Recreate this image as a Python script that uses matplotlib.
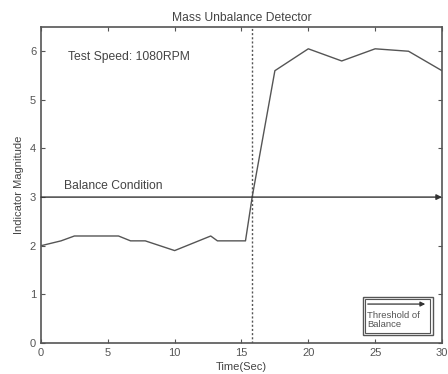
import matplotlib
matplotlib.use("Agg")
import matplotlib.pyplot as plt
from matplotlib.patches import Rectangle

plt.rcParams['font.family'] = ['Liberation Sans', 'DejaVu Sans']

time_sec = [0, 1.5, 2.5, 5.8, 6.7, 7.8, 10.0, 12.7, 13.2, 15.3, 15.8, 17.5, 20.0, 22.5, 25.0, 27.5, 30.0]
magnitude = [2.0, 2.1, 2.2, 2.2, 2.1, 2.1, 1.9, 2.2, 2.1, 2.1, 3.0, 5.6, 6.05, 5.8, 6.05, 6.0, 5.6]
threshold = 3.0
event_time = 15.8
x_ticks = [0, 5, 10, 15, 20, 25, 30]
y_ticks = [0, 1, 2, 3, 4, 5, 6]

fig = plt.figure(figsize=(4.48, 3.74), dpi=100)
ax = fig.add_axes([0.0915, 0.083, 0.895, 0.845])

ink = '#555555'
ax.plot(time_sec, magnitude, color=ink, lw=1.0)
ax.axvline(event_time, color=ink, lw=1.0, ls=(0, (1.5, 1.5)))
ax.annotate('', xy=(30, threshold), xytext=(0, threshold),
            arrowprops=dict(arrowstyle='-|>', color='#333333', lw=1.0, mutation_scale=8,
                            shrinkA=0, shrinkB=0))

ax.text(1.7, 3.1, 'Balance Condition', fontsize=8.7, color='#444444', va='bottom')
ax.text(2.0, 5.88, 'Test Speed: 1080RPM', fontsize=8.7, color='#444444', va='center')

# legend-like box
ax.add_patch(Rectangle((24.06, 0.165), 5.24, 0.785, fill=False, ec=ink, lw=1.0))
ax.add_patch(Rectangle((24.22, 0.21), 4.92, 0.695, fill=False, ec=ink, lw=0.8))
ax.annotate('', xy=(28.75, 0.8), xytext=(24.45, 0.8),
            arrowprops=dict(arrowstyle='-|>', color='#333333', lw=0.9, mutation_scale=7,
                            shrinkA=0, shrinkB=0))
ax.text(24.4, 0.47, 'Threshold of\nBalance', fontsize=6.8, color='#555555',
        va='center', linespacing=1.0)

ax.set_xlim(0, 30)
ax.set_ylim(0, 6.5)
ax.set_xticks(x_ticks)
ax.set_yticks(y_ticks)
ax.tick_params(direction='in', top=True, right=True, labelsize=8, colors='#555555',
               length=3, width=0.8)
for s in ax.spines.values():
    s.set_color(ink)
    s.set_linewidth(1.2)

ax.set_title('Mass Unbalance Detector', fontsize=8.7, color='#444444', pad=4)
ax.set_xlabel('Time(Sec)', fontsize=8, color='#444444', labelpad=3)
ax.set_ylabel('Indicator Magnitude', fontsize=8, color='#444444', labelpad=4)

fig.savefig('out.png', dpi=100)
